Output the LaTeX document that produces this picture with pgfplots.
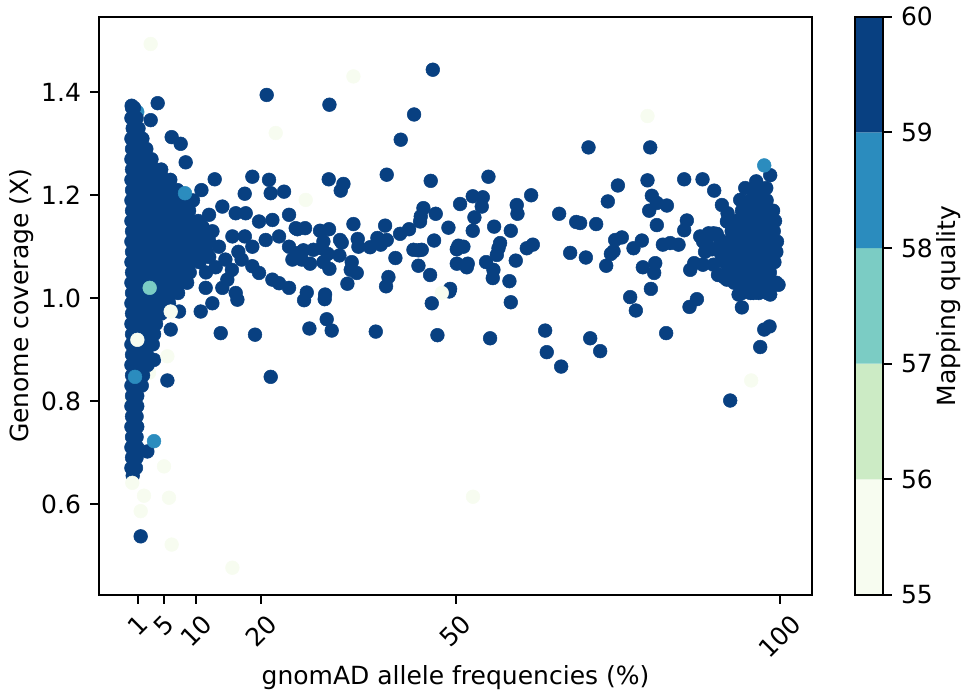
\documentclass[border=0pt]{standalone}
\usepackage{fontspec}
\setmainfont{DejaVu Sans}
\usepackage{graphicx}
\usepackage{pgfplots}
\pgfplotsset{compat=1.18}
\definecolor{c55}{HTML}{F7FCF0}
\definecolor{c56}{HTML}{CCEBC5}
\definecolor{c57}{HTML}{7BCCC4}
\definecolor{c58}{HTML}{2B8CBE}
\definecolor{c59}{HTML}{084081}
\pgfplotsset{
  dot/.style={only marks, mark=*, mark size=2.75pt, mark options={fill=#1, draw=#1, line width=0.2pt}},
}
\begin{document}
\begin{tikzpicture}
\useasboundingbox (0,0) rectangle (385.2pt,277.2pt);
\begin{axis}[
  at={(39.6pt,39.2pt)}, anchor=south west,
  width=285.2pt, height=231.3pt, scale only axis,
  xmin=-5, xmax=105, ymin=0.423, ymax=1.547,
  xtick={1,5,10,20,50,100},
  xticklabels={\rotatebox{45}{1},\rotatebox{45}{5},\rotatebox{45}{10},\rotatebox{45}{20},\rotatebox{45}{50},\rotatebox{45}{100}},
  xticklabel style={anchor=north, inner sep=0pt, yshift=-3.5pt},
  ytick={0.6,0.8,1.0,1.2,1.4},
  yticklabels={0.6,0.8,1.0,1.2,1.4},
  yticklabel style={anchor=east, inner sep=0pt, xshift=-3.5pt},
  tick align=outside, xtick pos=bottom, ytick pos=left,
  major tick length=3.5pt,
  every tick/.style={black, line width=0.8pt},
  axis line style={line width=0.8pt},
  xlabel={gnomAD allele frequencies (\%)},
  ylabel={Genome coverage (X)},
  every axis x label/.style={at={(axis description cs:0.5,-0.1435)}, anchor=center},
  every axis y label/.style={at={(axis description cs:-0.108,0.5)}, rotate=90, anchor=center},
  axis on top,
]
% partly hidden coloured points (drawn first)
\addplot[dot=c58] coordinates {(0.9,1.362) (7.6,1.121) (4.0,1.087)};
\addplot[dot=c55] coordinates {(0.0,0.803) (2.72,0.855)};
% dense cluster near 0 (MQ 60)
\addplot[dot=c59] coordinates {
(0.1,1.37) (0.4,1.37)
(0.0,1.35) (0.8,1.35)
(0.2,1.33) (1.1,1.33)
(0.0,1.31) (0.9,1.31) (1.7,1.31)
(0.1,1.29) (1.2,1.29) (2.3,1.29)
(0.0,1.27) (1.1,1.27) (2.2,1.27) (3.1,1.27)
(0.1,1.25) (1.2,1.25) (2.4,1.25) (3.6,1.25) (4.6,1.25)
(0.0,1.23) (1.3,1.23) (2.6,1.23) (3.9,1.23) (5.1,1.23) (6.0,1.23)
(0.1,1.21) (1.2,1.21) (2.5,1.21) (3.7,1.21) (5.0,1.21) (6.2,1.21) (7.1,1.21)
(0.0,1.19) (1.3,1.19) (2.6,1.19) (3.9,1.19) (5.2,1.19) (6.5,1.19) (7.8,1.19)
(0.1,1.17) (1.2,1.17) (2.4,1.17) (3.7,1.17) (5.0,1.17) (6.3,1.17) (7.6,1.17) (8.9,1.17)
(0.0,1.15) (1.3,1.15) (2.6,1.15) (3.9,1.15) (5.2,1.15) (6.5,1.15) (7.8,1.15) (9.1,1.15) (10.3,1.15)
(0.1,1.13) (1.2,1.13) (2.5,1.13) (3.8,1.13) (5.1,1.13) (6.4,1.13) (7.7,1.13) (9.0,1.13) (10.3,1.13) (11.5,1.13)
(0.0,1.11) (1.3,1.11) (2.6,1.11) (3.9,1.11) (5.2,1.11) (6.5,1.11) (7.8,1.11) (9.1,1.11) (10.4,1.11) (12.0,1.11)
(0.1,1.09) (1.2,1.09) (2.5,1.09) (3.8,1.09) (5.1,1.09) (6.4,1.09) (7.7,1.09) (9.0,1.09) (10.3,1.09) (11.6,1.09)
(0.0,1.07) (1.3,1.07) (2.6,1.07) (3.9,1.07) (5.2,1.07) (6.5,1.07) (7.8,1.07) (9.1,1.07) (10.5,1.07)
(0.1,1.05) (1.2,1.05) (2.5,1.05) (3.8,1.05) (5.1,1.05) (6.4,1.05) (7.7,1.05) (9.0,1.05)
(0.0,1.03) (1.3,1.03) (2.6,1.03) (3.9,1.03) (5.2,1.03) (6.5,1.03) (7.6,1.03) (8.6,1.03)
(0.1,1.01) (1.2,1.01) (2.5,1.01) (3.8,1.01) (5.1,1.01) (6.3,1.01) (7.2,1.01)
(0.0,0.99) (1.3,0.99) (2.6,0.99) (3.9,0.99) (5.0,0.99) (5.8,0.99)
(0.1,0.97) (1.2,0.97) (2.5,0.97) (3.7,0.97) (4.6,0.97)
(0.0,0.95) (1.3,0.95) (2.6,0.95) (3.8,0.95)
(0.1,0.93) (1.2,0.93) (2.4,0.93) (3.5,0.93)
(0.0,0.91) (1.3,0.91) (2.5,0.91) (3.3,0.91)
(0.1,0.89) (1.2,0.89) (2.4,0.89)
(0.0,0.87) (1.3,0.87) (2.5,0.87)
(0.1,0.85) (1.1,0.85) (1.8,0.85)
(0.0,0.83) (1.0,0.83) (1.6,0.83)
(0.1,0.81) (0.9,0.81)
(0.0,0.79) (0.9,0.79)
(0.1,0.77) (0.8,0.77)
(0.0,0.75) (0.9,0.75)
(0.1,0.73) (0.8,0.73)
(0.0,0.71) (0.9,0.71)
(0.1,0.69) (0.8,0.69)
(0.0,0.67) (0.7,0.67)
(0.2,0.655)
};
% scattered points x 0-26 (MQ 60)
\addplot[dot=c59] coordinates {
(20.87,1.395) (4.05,1.379) (0.04,1.374) (2.97,1.346) (6.21,1.313) (7.6,1.300) (8.37,1.264)
(12.85,1.231) (18.66,1.236) (21.23,1.230) (23.55,1.207) (21.49,1.204) (17.48,1.203) (24.32,1.162)
(14.03,1.178) (16.09,1.165) (17.63,1.165) (19.69,1.149) (21.75,1.152) (25.35,1.136) (11.98,1.162)
(10.95,1.139) (15.58,1.120) (18.66,1.100) (20.72,1.113) (22.78,1.120) (24.32,1.100) (24.84,1.075)
(25.86,1.088) (18.66,1.062) (19.69,1.049) (21.75,1.036) (22.78,1.029) (24.32,1.020) (14.8,1.036)
(14.03,1.020) (16.09,1.010) (16.35,0.997) (11.46,1.020) (12.49,0.990) (10.69,0.974) (13.78,0.932)
(19.07,0.929) (12.5,1.13) (13.5,1.10) (12.0,1.08) (11.0,1.10) (13.0,1.06) (14.5,1.075) (16.5,1.09)
(17.5,1.12) (11.5,1.05) (17.0,1.075) (15.5,1.055) (9.5,1.19) (10.8,1.21)
(21.49,0.847) (5.55,0.840) (3.49,0.880) (2.46,0.702) (1.43,0.537) (6.06,0.939) (7.35,0.974)
};
% scattered points x 25-65 (MQ 60)
\addplot[dot=c59] coordinates {
(46.5,1.444) (30.55,1.376) (43.61,1.357) (41.55,1.308) (39.39,1.240) (30.44,1.231) (32.71,1.222)
(32.29,1.209) (46.18,1.228) (55.08,1.236) (61.67,1.200) (52.66,1.198) (54.21,1.196) (54.05,1.178)
(50.71,1.183) (59.45,1.181) (59.56,1.164) (45.05,1.175) (44.64,1.159) (44.54,1.149) (46.95,1.164)
(52.92,1.157) (34.25,1.144) (39.14,1.141) (48.91,1.137) (55.96,1.139) (25.61,1.134) (26.79,1.136)
(29.1,1.131) (30.49,1.134) (32.19,1.113) (32.45,1.108) (41.45,1.125) (42.84,1.134) (52.66,1.131)
(58.53,1.131) (29.62,1.110) (29.36,1.097) (34.92,1.115) (35.02,1.100) (36.82,1.099) (37.95,1.117)
(38.47,1.104) (39.39,1.113) (46.7,1.112) (50.45,1.102) (51.22,1.100) (50.2,1.095) (56.88,1.107)
(56.63,1.097) (56.37,1.084) (61.0,1.097) (61.93,1.104) (26.53,1.093) (28.08,1.094) (30.29,1.086)
(32.09,1.083) (43.51,1.094) (44.79,1.094) (44.28,1.093) (40.73,1.078) (26.28,1.075) (27.56,1.067)
(29.62,1.070) (33.99,1.070) (33.84,1.055) (34.76,1.049) (30.55,1.057) (44.28,1.063) (46.08,1.045)
(50.2,1.067) (51.89,1.067) (51.74,1.060) (54.72,1.070) (55.85,1.055) (55.75,1.039) (59.3,1.073)
(58.32,1.033) (33.32,1.028) (39.65,1.041) (39.29,1.023) (27.05,1.011) (26.64,0.996) (29.88,1.007)
(29.82,0.998) (49.17,1.018) (49.06,1.013) (46.34,0.990) (58.53,0.992) (30.13,0.959) (30.9,0.937)
(27.46,0.941) (37.7,0.935) (47.21,0.928) (55.34,0.922) (63.83,0.937) (64.08,0.895)
};
% scattered points x 65-100 (MQ 60)
\addplot[dot=c59] coordinates {
(70.52,1.293) (80.04,1.293) (98.55,1.239) (79.62,1.229) (85.28,1.231) (88.11,1.231) (75.05,1.219)
(89.91,1.209) (94.7,1.214) (96.39,1.227) (97.94,1.214) (73.5,1.188) (80.29,1.199) (81.06,1.185)
(82.61,1.180) (79.88,1.170) (93.92,1.191) (91.1,1.181) (65.99,1.164) (68.62,1.148) (69.23,1.146)
(71.7,1.144) (81.06,1.142) (85.69,1.151) (85.28,1.132) (91.97,1.165) (91.87,1.149) (74.63,1.113)
(75.66,1.118) (78.75,1.112) (77.46,1.097) (81.99,1.104) (83.12,1.107) (84.41,1.104) (87.75,1.120)
(89.04,1.126) (89.81,1.126) (88.78,1.104) (90.84,1.113) (74.38,1.091) (73.97,1.086) (67.69,1.088)
(70.11,1.079) (73.25,1.063) (78.9,1.060) (80.81,1.068) (80.65,1.049) (86.21,1.055) (86.83,1.068)
(88.16,1.065) (90.84,1.045) (91.87,1.036) (80.14,1.018) (76.95,1.002) (77.82,0.976) (86.1,0.983)
(87.24,0.998) (93.67,1.007) (94.18,0.982) (95.98,1.010) (98.55,1.007) (99.84,1.026) (82.5,0.932)
(66.3,0.867) (70.78,0.922) (72.32,0.897) (97.63,0.939) (98.45,0.945) (97.01,0.905) (92.38,0.801)
(96.0,1.21) (97.2,1.21)
(95.5,1.19) (96.8,1.19) (98.0,1.19)
(94.2,1.17) (95.5,1.17) (96.8,1.17) (98.1,1.17) (99.0,1.17)
(93.2,1.15) (94.5,1.15) (95.8,1.15) (97.1,1.15) (98.4,1.15) (99.3,1.15)
(92.6,1.13) (93.9,1.13) (95.2,1.13) (96.5,1.13) (97.8,1.13) (99.1,1.13)
(92.3,1.11) (93.6,1.11) (94.9,1.11) (96.2,1.11) (97.5,1.11) (98.8,1.11) (99.6,1.11)
(92.0,1.09) (93.3,1.09) (94.6,1.09) (95.9,1.09) (97.2,1.09) (98.5,1.09) (99.5,1.09)
(91.5,1.07) (92.8,1.07) (94.1,1.07) (95.4,1.07) (96.7,1.07) (98.0,1.07) (99.2,1.07)
(92.0,1.05) (93.3,1.05) (94.6,1.05) (95.9,1.05) (97.2,1.05) (98.5,1.05)
(93.0,1.03) (94.3,1.03) (95.6,1.03) (96.9,1.03) (98.2,1.03) (99.5,1.03)
(94.2,1.01) (95.5,1.01) (96.8,1.01) (98.1,1.01)
(89.0,1.12) (90.3,1.125) (88.2,1.11) (89.6,1.095) (88.5,1.09) (90.8,1.10) (91.0,1.085)
(89.8,1.065) (90.5,1.045) (91.5,1.04)
};
% visible coloured points
\addplot[dot=c58] coordinates {(8.27,1.204) (0.56,0.847) (3.49,0.722) (97.63,1.258)};
\addplot[dot=c57] coordinates {(2.82,1.020)};
\addplot[dot=c55] coordinates {
(2.97,1.494) (22.26,1.321) (34.25,1.431) (26.89,1.191) (47.88,1.010) (79.62,1.354) (95.62,0.840)
(52.7,0.614) (6.06,0.974) (0.92,0.919) (5.55,0.887) (5.03,0.673) (0.14,0.641) (1.94,0.616)
(5.8,0.612) (1.43,0.586) (6.21,0.521) (15.58,0.476)
};
\end{axis}
% colour bar
\begin{axis}[
  at={(342pt,39.2pt)}, anchor=south west,
  width=11.2pt, height=231.3pt, scale only axis,
  xmin=0, xmax=1, ymin=55, ymax=60,
  xtick=\empty,
  ytick={55,56,57,58,59,60},
  yticklabels={55,56,57,58,59,60},
  ytick pos=right, yticklabel pos=right,
  tick align=outside, major tick length=3.5pt,
  every tick/.style={black, line width=0.8pt},
  axis line style={line width=0.8pt},
  yticklabel style={anchor=west, inner sep=0pt, xshift=3.5pt},
  ylabel={Mapping quality},
  every axis y label/.style={at={(axis description cs:3.33,0.5)}, rotate=90, anchor=center},
  axis on top,
]
\addplot[fill=c55, draw=none] coordinates {(0,55) (1,55) (1,56) (0,56) (0,55)};
\addplot[fill=c56, draw=none] coordinates {(0,56) (1,56) (1,57) (0,57) (0,56)};
\addplot[fill=c57, draw=none] coordinates {(0,57) (1,57) (1,58) (0,58) (0,57)};
\addplot[fill=c58, draw=none] coordinates {(0,58) (1,58) (1,59) (0,59) (0,58)};
\addplot[fill=c59, draw=none] coordinates {(0,59) (1,59) (1,60) (0,60) (0,59)};
\end{axis}
\end{tikzpicture}
\end{document}
